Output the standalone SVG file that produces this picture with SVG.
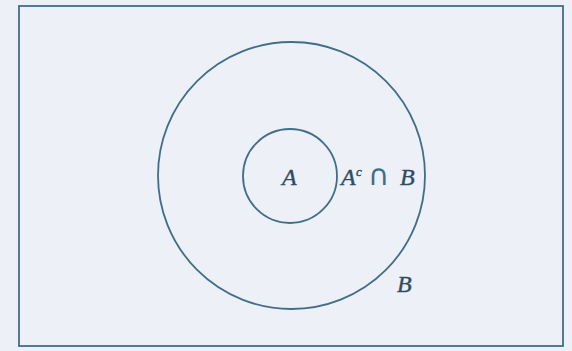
<svg xmlns="http://www.w3.org/2000/svg" width="572" height="351" viewBox="0 0 572 351">
<style>
.ln{fill:none;stroke:#3f6f88;stroke-width:1.8}
.t{font-family:"Liberation Serif",serif;font-style:italic;font-size:24px;fill:#2f4c62;stroke:#2f4c62;stroke-width:0.4}
.sup{font-size:13px}
.s{font-family:"DejaVu Sans",sans-serif;font-size:29px;fill:#3f6f88}
</style>
<rect x="0" y="0" width="572" height="351" fill="#eef0f7"/>
<rect x="19" y="6" width="544" height="340" fill="#ebeef8" class="ln"/>
<g id="B">
<circle cx="291.5" cy="175.5" r="133.5" class="ln"/>
<text x="397" y="292" class="t">B</text>
</g>
<g id="A">
<circle cx="290" cy="176" r="47" class="ln"/>
<text x="282" y="185" class="t">A</text>
</g>
<g id="AcB">
<text x="341" y="185" class="t">A</text>
<text x="356" y="176" class="t sup">c</text>
<text x="368" y="185" class="s">∩</text>
<text x="400" y="185" class="t">B</text>
</g>
</svg>
